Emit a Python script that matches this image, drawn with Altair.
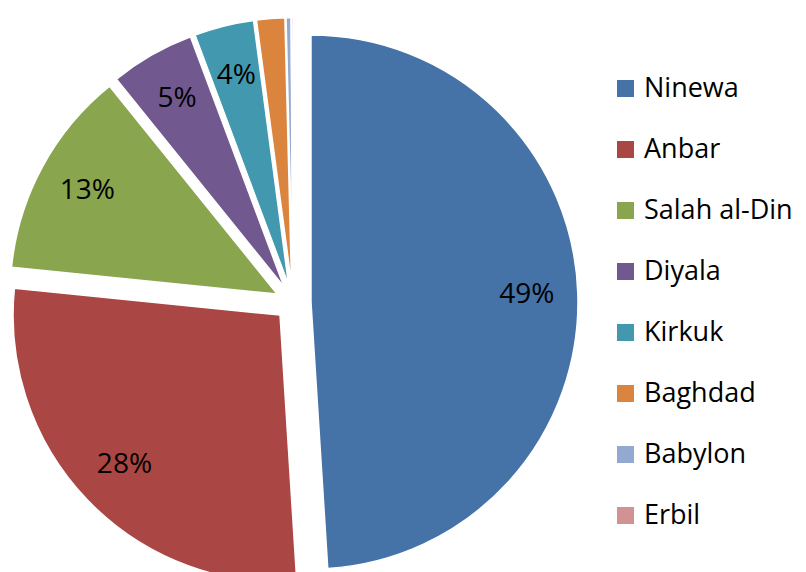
import altair as alt
import pandas as pd

regions = ["Ninewa", "Anbar", "Salah al-Din", "Diyala", "Kirkuk", "Baghdad", "Babylon", "Erbil"]
shares = [49.0, 27.6, 12.6, 5.1, 3.6, 1.7, 0.3, 0.1]
colors = ["#4572A7", "#AA4643", "#89A54E", "#71588F", "#4198AF", "#DB843D", "#93A9CF", "#D19392"]

df = pd.DataFrame({"region": regions, "value": shares, "idx": list(range(len(regions)))})

FONT = "Open Sans"
EXPLODE = 18
LABEL_R = 216

base = (
    alt.Chart(df)
    .transform_joinaggregate(total="sum(value)")
    .transform_window(cum="sum(value)", sort=[alt.SortField("idx")], frame=[None, 0])
    .transform_calculate(
        mid="2*PI*(datum.cum - datum.value/2)/datum.total",
        pct="format(datum.value/datum.total, '.0%')",
    )
    .transform_calculate(
        dx=f"{EXPLODE}*sin(datum.mid)",
        dy=f"-{EXPLODE}*cos(datum.mid)",
        lx=f"{EXPLODE + LABEL_R}*sin(datum.mid)",
        ly=f"-{EXPLODE + LABEL_R}*cos(datum.mid)",
    )
)

arcs = base.mark_arc(
    radius=267, x=285, y=294.6,
    xOffset=alt.expr("datum.dx"), yOffset=alt.expr("datum.dy"),
    stroke="white", strokeWidth=1.5,
).encode(
    theta=alt.Theta("value:Q", stack=True),
    order=alt.Order("idx:Q"),
    color=alt.Color(
        "region:N",
        scale=alt.Scale(domain=regions, range=colors),
        legend=alt.Legend(
            title=None, orient="none", legendX=604, legendY=67,
            symbolType="square", symbolSize=289, symbolStrokeWidth=0, symbolOpacity=1,
            labelFont=FONT, labelFontSize=27, labelColor="#000000",
            labelOffset=5, rowPadding=33, padding=0, labelLimit=300,
        ),
    ),
)

labels = base.transform_filter("datum.value >= 3").mark_text(
    x=285, y=294.6,
    xOffset=alt.expr("datum.lx"), yOffset=alt.expr("datum.ly"),
    font=FONT, fontSize=28, color="#000000", align="center", baseline="middle",
).encode(text="pct:N")

chart = alt.layer(arcs, labels).properties(
    width=790, height=564,
    autosize=alt.AutoSizeParams(type="none"),
    padding=0,
    background="white",
).configure_view(stroke=None)

chart.save("out.html", embed_options={"renderer": "svg", "actions": False})
